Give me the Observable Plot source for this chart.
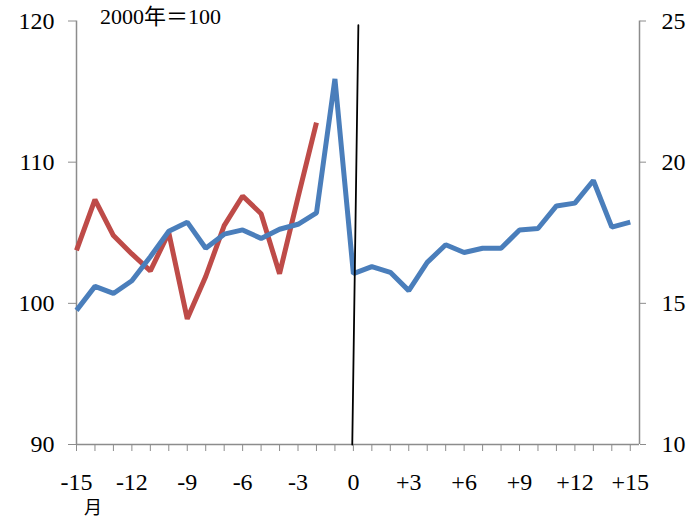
<!DOCTYPE html>
<html>
<head>
<meta charset="utf-8">
<script src="https://cdn.jsdelivr.net/npm/d3@7"></script>
<script src="https://cdn.jsdelivr.net/npm/@observablehq/plot@0.6"></script>
<style>
  html, body { margin: 0; padding: 0; background: #fff; }
  #chart { position: relative; width: 690px; height: 519px; overflow: hidden; }
  #unit { position: absolute; left: 100px; top: 6px; font: 22px "Liberation Serif", "Noto Sans CJK JP", serif; line-height: 1; color: #000; white-space: nowrap; }
  #month { position: absolute; left: 84px; top: 497px; font: 18px "Noto Sans CJK JP", serif; line-height: 1; color: #000; }
</style>
</head>
<body>
<div id="chart">
  <div id="unit">2000年＝100</div>
  <div id="month">月</div>
</div>
<script>
const months = d3.range(-15, 16);
const blueValues = [99.5, 101.2, 100.7, 101.6, 103.3, 105.1, 105.75, 103.9, 104.9, 105.2,
  104.6, 105.25, 105.6, 106.4, 115.9, 102.1, 102.6, 102.2, 100.9, 102.9,
  104.15, 103.6, 103.9, 103.9, 105.2, 105.3, 106.9, 107.1, 108.7, 105.4, 105.75];
const redMonths = d3.range(-15, -1);
const redValues = [103.75, 107.34, 104.8, 103.5, 102.3, 105.0, 98.9, 101.9, 105.5, 107.6,
  106.35, 102.1, 107.5, 112.8];
const leftTicks = [90, 100, 110, 120];
const rightTickLabels = [10, 15, 20, 25];
const xLabelTicks = [-15, -12, -9, -6, -3, 0, 3, 6, 9, 12, 15];
const markerX = [-0.06, 0.27];
const markerY = [90, 119.7];

const blue = months.map((m, i) => ({m, v: blueValues[i]}));
const red = redMonths.map((m, i) => ({m, v: redValues[i]}));
const marker = markerX.map((m, i) => ({m, v: markerY[i]}));
const fmtX = d => d > 0 ? "+" + d : String(d);
const axisColor = "#8c8c8c";

const plot = Plot.plot({
  width: 690,
  height: 519,
  marginLeft: 76,
  marginRight: 51,
  marginTop: 20.5,
  marginBottom: 75,
  style: {fontFamily: "'Liberation Serif', serif", fontSize: "24px", color: "#000", background: "#fff"},
  x: {domain: [-15, 15.5]},
  y: {domain: [90, 120]},
  marks: [
    Plot.ruleX([-15, 15.5], {stroke: axisColor, strokeWidth: 1.5}),
    Plot.ruleY([90], {stroke: axisColor, strokeWidth: 1.5}),
    Plot.axisY({anchor: "left", ticks: leftTicks, tickSize: 8, tickPadding: 14, stroke: axisColor, label: null, fontSize: 24}),
    Plot.axisY({anchor: "right", ticks: leftTicks, tickSize: 6, tickPadding: 16,
      tickFormat: d => String(rightTickLabels[leftTicks.indexOf(d)]), stroke: axisColor, label: null, fontSize: 24}),
    Plot.axisX({ticks: months, tickSize: 7, tickFormat: () => "", stroke: axisColor, label: null}),
    Plot.axisX({ticks: xLabelTicks, tickSize: 0, tickPadding: 28, tickFormat: fmtX, label: null, fontSize: 24}),
    Plot.line(red, {x: "m", y: "v", stroke: "#BE4B48", strokeWidth: 5, strokeLinejoin: "miter", strokeLinecap: "butt"}),
    Plot.line(blue, {x: "m", y: "v", stroke: "#4A7EBB", strokeWidth: 5, strokeLinejoin: "miter", strokeLinecap: "butt"}),
    Plot.line(marker, {x: "m", y: "v", stroke: "#000", strokeWidth: 1.8})
  ]
});
document.getElementById("chart").prepend(plot);
plot.style.position = "absolute";
plot.style.left = "0";
plot.style.top = "0";
</script>
</body>
</html>
